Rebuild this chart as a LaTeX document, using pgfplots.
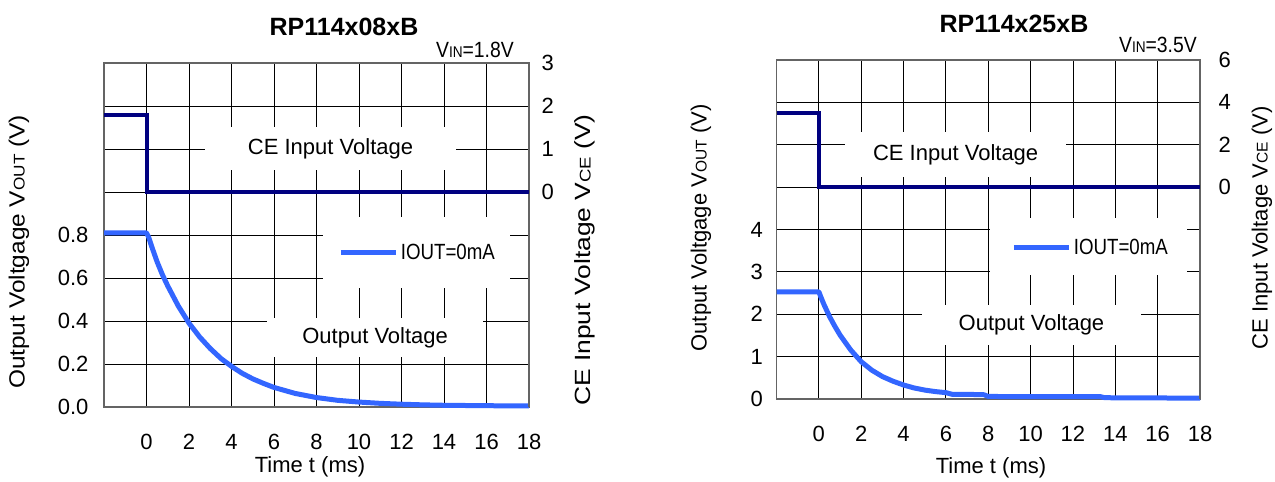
\documentclass[border=0pt]{standalone}
\usepackage{fontspec}
\setmainfont{Liberation Sans}
\usepackage{pgfplots}
\pgfplotsset{compat=1.18}
\usepackage{pgfplotstable}

\definecolor{ceblue}{RGB}{0,0,128}
\definecolor{outblue}{RGB}{51,102,255}
\definecolor{framegray}{RGB}{100,100,100}

\newcommand{\sm}[1]{{\fontsize{15.5}{16}\selectfont #1}}
\newcommand{\txt}{\fontsize{22}{26}\selectfont}

\pgfplotstableread{
t v
-2 0.81
0 0.81
0.1 0.79
0.25 0.745
0.5 0.675
0.75 0.615
1 0.563
1.5 0.469
2 0.390
2.5 0.326
3 0.272
3.5 0.226
4 0.189
4.5 0.157
5 0.131
5.5 0.110
6 0.091
7 0.063
8 0.044
9 0.031
10 0.023
11 0.017
12 0.013
13 0.010
14 0.008
16 0.006
18 0.005
}\outA

\pgfplotstableread{
t v
-2 1.8
0 1.8
0 0
18 0
}\ceA

\pgfplotstableread{
t v
-2 2.53
0 2.53
0.1 2.40
0.25 2.22
0.5 1.95
0.75 1.72
1 1.51
1.5 1.16
2 0.88
2.5 0.68
3 0.53
3.5 0.42
4 0.33
4.5 0.26
5 0.21
5.5 0.175
6 0.15
6.3 0.11
7 0.11
7.8 0.10
8 0.06
10 0.055
13.3 0.055
13.5 0.03
18 0.02
}\outB

\pgfplotstableread{
t v
-2 3.5
0 3.5
0 0
18 0
}\ceB

\tikzset{wbox/.style={fill=white, inner sep=0pt, font=\txt}}

\pgfplotsset{
  base/.style={
    scale only axis, clip=false,
    xmin=-2, xmax=18,
    major tick length=0pt,
    /pgf/number format/assume math mode=true,
    tick label style={font=\txt},
    axis line style={framegray, line width=1.6pt},
  },
  prim/.style={
    base,
    xtick={-2,0,2,4,6,8,10,12,14,16,18},
    xticklabels={,0,2,4,6,8,10,12,14,16,18},
    grid=major, grid style={black, line width=0.9pt},
    xticklabel style={yshift=-24pt},
    legend image code/.code={\draw[#1] (0pt,0pt) -- (55pt,0pt);},
    legend style={draw=none, fill=none, inner sep=0pt, anchor=west,
      font=\txt, nodes={inner xsep=2.5pt, inner ysep=0pt}},
  },
  sec/.style={
    base,
    axis x line=none, axis y line*=right,
    yticklabel style={anchor=west},
  },
}

\begin{document}
\begin{tikzpicture}
\useasboundingbox (0pt,0pt) rectangle (1275pt,-482pt);

% ---------------- Left chart ----------------
\begin{axis}[prim,
  at={(104pt,-63pt)}, anchor=north west, width=425pt, height=344pt,
  ymin=0, ymax=1.6,
  ytick={0,0.2,0.4,0.6,0.8,1.0,1.2,1.4,1.6},
  yticklabels={0.0,0.2,0.4,0.6,0.8,,,,},
  yticklabel style={xshift=-12pt},
  legend style={at={(rel axis cs:0.551,0.448)}},
]
\node[wbox, minimum width=251pt, minimum height=43pt] at (rel axis cs:0.533,0.751) {CE Input Voltage};
\node[wbox, minimum width=216pt, minimum height=39pt] at (rel axis cs:0.638,0.202) {Output Voltage};
\node[wbox, minimum width=187pt, minimum height=71pt] at (rel axis cs:0.735,0.449) {};
\addplot[outblue, line width=5pt, line join=round] table[x=t, y=v] {\outA};
\addlegendentry{\scalebox{0.85}[1]{IOUT=0mA}}
\end{axis}
\begin{axis}[sec,
  at={(104pt,-63pt)}, anchor=north west, width=425pt, height=344pt,
  ymin=-5, ymax=3, ytick={0,1,2,3},
  yticklabel style={xshift=9pt},
]
\addplot[ceblue, line width=4pt] table[x=t, y=v] {\ceA};
\end{axis}

\node[font=\bfseries\fontsize{25}{30}\selectfont] at (344pt,-27pt) {RP114x08xB};
\node[anchor=east, inner sep=0pt, font=\txt] at (514pt,-50pt) {\scalebox{0.88}[1]{V\sm{IN}=1.8V}};
\node[rotate=90, inner sep=0pt, font=\txt] at (19pt,-252pt) {\scalebox{1.11}[1]{Output Voltgage V\sm{OUT} (V)}};
\node[rotate=90, inner sep=0pt, font=\txt] at (585pt,-260pt) {\scalebox{1.2}[1]{CE Input Voltage V\sm{CE} (V)}};
\node[inner sep=0pt, font=\txt] at (310pt,-467pt) {Time t (ms)};

% ---------------- Right chart ----------------
\begin{axis}[prim,
  at={(776.5pt,-60pt)}, anchor=north west, width=423.5pt, height=339pt,
  ymin=0, ymax=8,
  ytick={0,1,2,3,4,5,6,7,8},
  yticklabels={0,1,2,3,4,,,,},
  yticklabel style={xshift=-10pt},
  legend style={at={(rel axis cs:0.554,0.448)}},
]
\node[wbox, minimum width=221pt, minimum height=45pt] at (rel axis cs:0.423,0.721) {CE Input Voltage};
\node[wbox, minimum width=219pt, minimum height=40pt] at (rel axis cs:0.602,0.218) {Output Voltage};
\node[wbox, minimum width=197pt, minimum height=57pt] at (rel axis cs:0.737,0.450) {};
\addplot[outblue, line width=5pt, line join=round] table[x=t, y=v] {\outB};
\addlegendentry{\scalebox{0.85}[1]{IOUT=0mA}}
\end{axis}
\begin{axis}[sec,
  at={(776.5pt,-60pt)}, anchor=north west, width=423.5pt, height=339pt,
  ymin=-10, ymax=6, ytick={0,2,4,6},
  yticklabel style={xshift=15pt},
]
\addplot[ceblue, line width=4pt] table[x=t, y=v] {\ceB};
\end{axis}

\node[font=\bfseries\fontsize{25}{30}\selectfont] at (1014pt,-24pt) {RP114x25xB};
\node[anchor=east, inner sep=0pt, font=\txt] at (1197pt,-45pt) {\scalebox{0.88}[1]{V\sm{IN}=3.5V}};
\node[rotate=90, inner sep=0pt, font=\txt] at (701pt,-228pt) {Output Voltgage V\sm{OUT} (V)};
\node[rotate=90, inner sep=0pt, font=\txt] at (1262pt,-228pt) {CE Input Voltage V\sm{CE} (V)};
\node[inner sep=0pt, font=\txt] at (991pt,-468pt) {Time t (ms)};
\end{tikzpicture}
\end{document}
